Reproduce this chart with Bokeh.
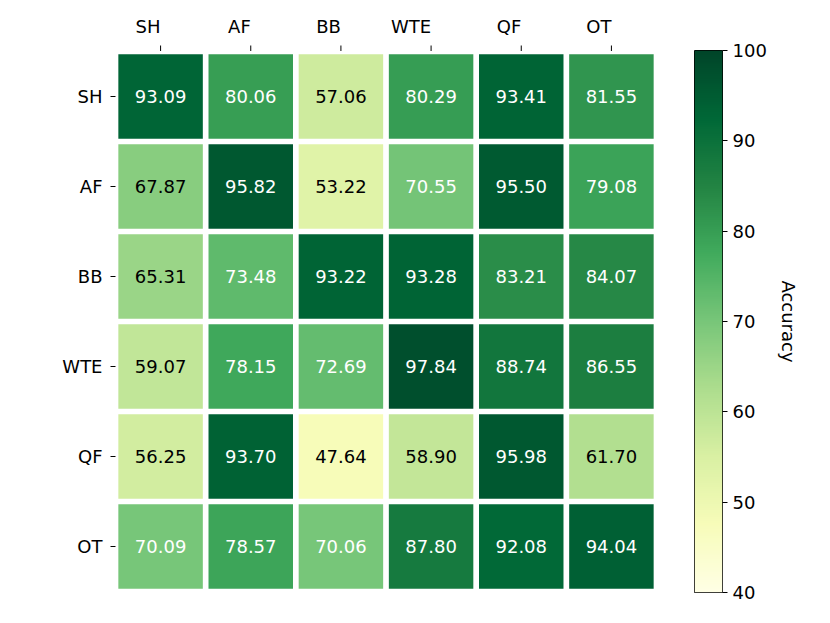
import numpy as np
from bokeh.plotting import figure
from bokeh.layouts import row, column
from bokeh.models import ColumnDataSource, FactorRange, LinearColorMapper, Range1d, FixedTicker
from bokeh.core.properties import value
from bokeh.embed import file_html
from bokeh.resources import INLINE

# ---- data ----
categories = ["SH", "AF", "BB", "WTE", "QF", "OT"]
row_SH = [93.09, 80.06, 57.06, 80.29, 93.41, 81.55]
row_AF = [67.87, 95.82, 53.22, 70.55, 95.50, 79.08]
row_BB = [65.31, 73.48, 93.22, 93.28, 83.21, 84.07]
row_WTE = [59.07, 78.15, 72.69, 97.84, 88.74, 86.55]
row_QF = [56.25, 93.70, 47.64, 58.90, 95.98, 61.70]
row_OT = [70.09, 78.57, 70.06, 87.80, 92.08, 94.04]
rows = [row_SH, row_AF, row_BB, row_WTE, row_QF, row_OT]
colorbar_ticks = [40, 50, 60, 70, 80, 90, 100]
vmin, vmax = 40, 100

# ---- YlGn colormap (matplotlib-like) ----
ylgn9 = ['#ffffe5', '#f7fcb9', '#d9f0a3', '#addd8e', '#78c679',
         '#41ab5d', '#238443', '#006837', '#004529']
def hex2rgb(h):
    return np.array([int(h[i:i + 2], 16) for i in (1, 3, 5)], dtype=float)
anchors = np.array([hex2rgb(c) for c in ylgn9])
pos = np.linspace(0, 1, len(ylgn9))
palette = []
for t in np.linspace(0, 1, 256):
    rgb = [np.interp(t, pos, anchors[:, k]) for k in range(3)]
    palette.append('#%02x%02x%02x' % tuple(int(round(c)) for c in rgb))

mapper = LinearColorMapper(palette=palette, low=vmin, high=vmax)

xs, ys, vs, labels, tcolors = [], [], [], [], []
for rname, vals in zip(categories, rows):
    for cname, v in zip(categories, vals):
        xs.append(cname)
        ys.append(rname)
        vs.append(v)
        labels.append("%.2f" % v)
        tcolors.append("white" if v > 70 else "black")
src = ColumnDataSource(dict(x=xs, y=ys, v=vs, label=labels, tc=tcolors))

FONT = "DejaVu Sans"
FS = "18px"
FRAME_W, FRAME_H = 541, 540
TOP_H = 51
LEFT, RIGHT = 115, 30

x_range = FactorRange(*categories, range_padding=0)

# ---- top strip: column labels (right-aligned at ticks) and tick marks ----
top = figure(frame_width=FRAME_W, frame_height=TOP_H, output_backend="svg", toolbar_location=None,
             x_range=x_range, y_range=Range1d(0, TOP_H),
             x_axis_location=None, y_axis_location=None,
             min_border_left=LEFT, min_border_right=RIGHT, min_border_top=0, min_border_bottom=0)
top.outline_line_color = None
top.grid.visible = False
top_src = ColumnDataSource(dict(x=categories, t=categories,
                                y_lab=[25.5] * len(categories),
                                y0=[0.5] * len(categories), y1=[6] * len(categories)))
top.segment(x0='x', y0='y0', x1='x', y1='y1', source=top_src, line_color="black", line_width=1)
top.text(x='x', y='y_lab', text='t', source=top_src, text_align="right", text_baseline="alphabetic",
         text_font=value(FONT), text_font_size=value(FS), text_color="black")

# ---- heatmap ----
p = figure(frame_width=FRAME_W, frame_height=FRAME_H, output_backend="svg", toolbar_location=None,
           x_range=x_range,
           y_range=FactorRange(*list(reversed(categories)), range_padding=0),
           x_axis_location=None,
           min_border_left=LEFT, min_border_right=RIGHT, min_border_top=0, min_border_bottom=20)
p.rect(x='x', y='y', width=0.937, height=0.937, source=src,
       fill_color={'field': 'v', 'transform': mapper}, line_color=None)
p.text(x='x', y='y', text='label', source=src, text_color='tc',
       text_align="center", text_baseline="middle",
       text_font=value(FONT), text_font_size=FS)
p.outline_line_color = None
p.grid.visible = False
ax = p.yaxis[0]
ax.axis_line_color = None
ax.major_tick_in = 0
ax.major_tick_out = 5
ax.major_tick_line_color = "black"
ax.minor_tick_line_color = None
ax.major_label_text_font = FONT
ax.major_label_text_font_size = FS
ax.major_label_text_color = "black"
ax.major_label_standoff = 8

# ---- colorbar figure ----
cb = figure(frame_width=28, frame_height=542, output_backend="svg", toolbar_location=None,
            x_range=Range1d(0, 1), y_range=Range1d(vmin, vmax),
            y_axis_location="right",
            min_border_left=8, min_border_right=10, min_border_top=50, min_border_bottom=20)
cb.image(image=[np.linspace(vmin, vmax, 256).reshape(256, 1)], x=0, y=vmin, dw=1, dh=vmax - vmin,
         color_mapper=mapper)
cb.xaxis.visible = False
cb.grid.visible = False
cb.outline_line_color = "black"
cb.outline_line_width = 1
ya = cb.yaxis[0]
ya.ticker = FixedTicker(ticks=colorbar_ticks)
ya.axis_line_color = None
ya.major_tick_in = 0
ya.major_tick_out = 5
ya.major_tick_line_color = "black"
ya.minor_tick_line_color = None
ya.major_label_text_font = FONT
ya.major_label_text_font_size = FS
ya.major_label_text_color = "black"
ya.major_label_standoff = 5
ya.axis_label = "Accuracy"
ya.axis_label_text_font = FONT
ya.axis_label_text_font_size = FS
ya.axis_label_text_font_style = "normal"
ya.axis_label_text_color = "black"
ya.axis_label_standoff = 8

layout = row(column(top, p, spacing=0), cb, spacing=0)
open("out.html", "w").write(file_html(layout, INLINE))
